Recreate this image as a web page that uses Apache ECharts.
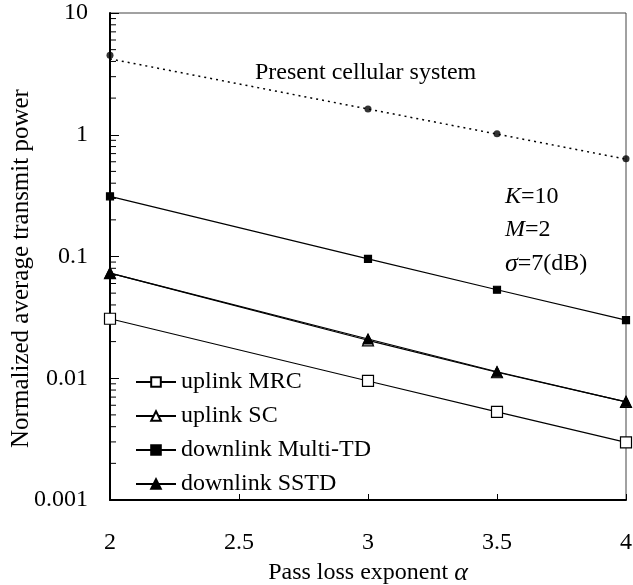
<!DOCTYPE html>
<html>
<head>
<meta charset="utf-8">
<script src="https://cdn.jsdelivr.net/npm/echarts@6/dist/echarts.min.js"></script>
<style>
  html, body { margin: 0; padding: 0; background: #fff; }
  #chart { width: 633px; height: 585px; }
</style>
</head>
<body>
<div id="chart"></div>
<script>
// pass loss exponent values
const alphaValues = [2, 3, 3.5, 4]
const presentCellular = [4.5, 1.63, 1.02, 0.635]
const presentFitEnds = [[2, 4.2], [4, 0.63]] // fitted dotted line
const uplinkMRC = [0.0308, 0.0095, 0.0053, 0.00297]
const uplinkSC = [0.073, 0.0205, 0.0112, 0.0064]
const downlinkMultiTD = [0.312, 0.0957, 0.0533, 0.030]
const downlinkSSTD = [0.073, 0.021, 0.0113, 0.0064]
const yTickLabels = ['0.001', '0.01', '0.1', '1', '10']
const xTickLabels = ['2', '2.5', '3', '3.5', '4']

const FONT = "'Liberation Serif', 'Times New Roman', serif"

const pairs = (ys) => alphaValues.map((x, i) => [x, ys[i]])

// minor ticks at 2..9 of every decade
const minorTicks = []
for (let e = -3; e < 1; e++) {
  for (let m = 2; m <= 9; m++) {
    minorTicks.push([2, m * Math.pow(10, e)])
  }
}

const chart = echarts.init(document.getElementById('chart'))

const lineSeries = (name, ys, symbol, size, filled) => ({
  name: name,
  type: 'line',
  data: pairs(ys),
  symbol: symbol,
  symbolSize: size,
  showSymbol: true,
  lineStyle: { color: '#000', width: 1.2 },
  itemStyle: {
    color: filled ? '#000' : '#fff',
    borderColor: '#000',
    borderWidth: 1.2,
    opacity: 1
  },
  emphasis: { disabled: true },
  z: 3
})

const option = {
  animation: false,
  backgroundColor: '#fff',
  textStyle: { fontFamily: FONT },
  grid: {
    left: 110,
    right: 7,
    top: 13,
    bottom: 85,
    outerBoundsMode: 'none',
    containLabel: false,
    show: true,
    borderColor: '#444',
    borderWidth: 1
  },
  xAxis: {
    type: 'value',
    min: 2,
    max: 4,
    interval: 0.5,
    name: '{n|Pass loss exponent }{a|α}',
    nameLocation: 'middle',
    nameGap: 58,
    nameTextStyle: {
      rich: {
        n: { fontFamily: FONT, fontSize: 24, color: '#000' },
        a: { fontFamily: FONT, fontSize: 26, fontStyle: 'italic', color: '#000' }
      }
    },
    axisLine: { onZero: false, lineStyle: { color: '#000', width: 2 } },
    axisTick: { inside: true, length: 6, lineStyle: { color: '#000', width: 1 } },
    axisLabel: {
      margin: 31,
      fontFamily: FONT,
      fontSize: 24,
      color: '#000',
      formatter: (v) => xTickLabels[Math.round((v - 2) / 0.5)]
    },
    splitLine: { show: false }
  },
  yAxis: {
    type: 'log',
    logBase: 10,
    min: 0.001,
    max: 10,
    name: 'Normalized average transmit power',
    nameLocation: 'middle',
    nameGap: 76,
    nameMoveOverlap: false,
    nameTextStyle: {
      fontFamily: FONT,
      fontSize: 25,
      color: '#000',
      padding: [0, 24, 0, 0]
    },
    axisLine: { lineStyle: { color: '#000', width: 2 } },
    axisTick: { inside: true, length: 9, lineStyle: { color: '#000', width: 1 } },
    axisLabel: {
      margin: 22,
      fontFamily: FONT,
      fontSize: 24,
      color: '#000',
      formatter: (v) => yTickLabels[Math.round(Math.log10(v)) + 3]
    },
    splitLine: { show: false }
  },
  legend: {
    data: ['uplink MRC', 'uplink SC', 'downlink Multi-TD', 'downlink SSTD'],
    orient: 'vertical',
    left: 130,
    top: 365,
    itemWidth: 40,
    itemHeight: 12,
    itemGap: 10,
    textStyle: { fontFamily: FONT, fontSize: 24, color: '#000' },
    selectedMode: false
  },
  graphic: [
    {
      type: 'text',
      left: 255,
      top: 61,
      style: { text: 'Present cellular system', font: '24px ' + FONT, fill: '#000' }
    },
    {
      type: 'text',
      left: 505,
      top: 185,
      style: {
        text: '{i|K}=10',
        fill: '#000',
        rich: {
          i: { fontFamily: FONT, fontSize: 24, fontStyle: 'italic' }
        },
        font: '24px ' + FONT
      }
    },
    {
      type: 'text',
      left: 505,
      top: 218,
      style: {
        text: '{i|M}=2',
        fill: '#000',
        rich: {
          i: { fontFamily: FONT, fontSize: 24, fontStyle: 'italic' }
        },
        font: '24px ' + FONT
      }
    },
    {
      type: 'text',
      left: 505,
      top: 251,
      style: {
        text: '{i|σ}=7(dB)',
        fill: '#000',
        rich: {
          i: { fontFamily: FONT, fontSize: 26, fontStyle: 'italic' }
        },
        font: '24px ' + FONT
      }
    }
  ],
  series: [
    {
      name: 'minorTicks',
      type: 'custom',
      silent: true,
      data: minorTicks,
      renderItem: (params, api) => {
        const p = api.coord([api.value(0), api.value(1)])
        return {
          type: 'line',
          shape: { x1: p[0], y1: p[1], x2: p[0] + 6, y2: p[1] },
          style: { stroke: '#000', lineWidth: 1 }
        }
      },
      z: 1
    },
    {
      name: 'present fit',
      type: 'line',
      data: presentFitEnds,
      symbol: 'none',
      lineStyle: { color: '#000', width: 1.5, type: [2, 4] },
      silent: true,
      z: 2
    },
    {
      name: 'Present cellular system',
      type: 'scatter',
      data: pairs(presentCellular),
      symbol: 'circle',
      symbolSize: 7,
      itemStyle: { color: '#000' },
      silent: true,
      z: 3
    },
    lineSeries('uplink MRC', uplinkMRC, 'rect', 11, false),
    lineSeries('uplink SC', uplinkSC, 'triangle', 11, false),
    lineSeries('downlink Multi-TD', downlinkMultiTD, 'rect', 7, true),
    lineSeries('downlink SSTD', downlinkSSTD, 'triangle', 10, true)
  ]
}

chart.setOption(option)
</script>
</body>
</html>
